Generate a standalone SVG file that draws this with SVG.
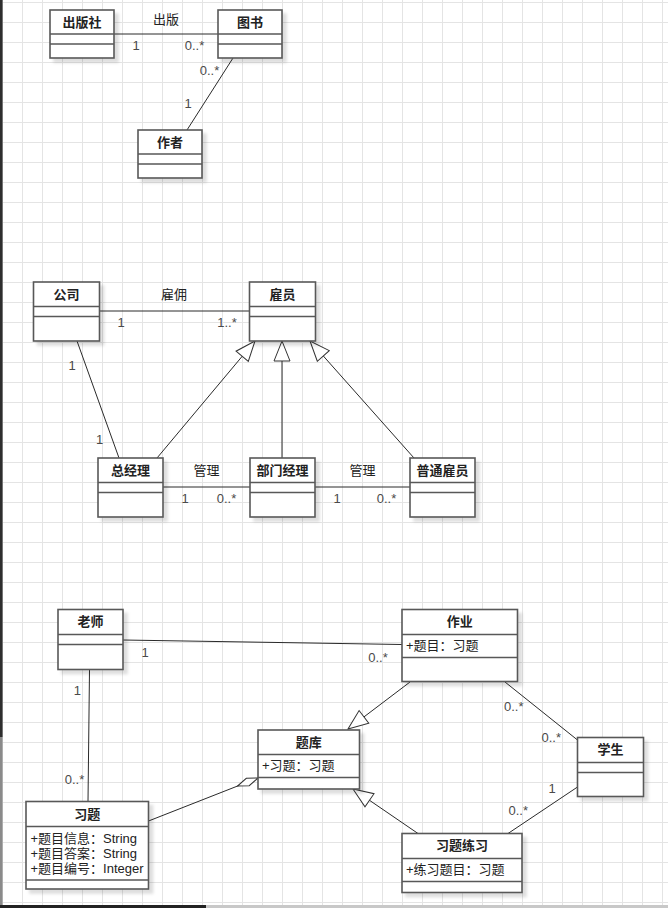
<svg xmlns="http://www.w3.org/2000/svg" width="668" height="908" viewBox="0 0 668 908">
  <defs>
    <pattern id="grid" x="2" y="2" width="20" height="20" patternUnits="userSpaceOnUse">
      <path d="M0 0.5 H20 M0.5 0 V20" fill="none" stroke="#e4e4e4" stroke-width="1"/>
    </pattern>
    <filter id="shadow" x="-10%" y="-10%" width="130%" height="130%">
      <feDropShadow dx="4" dy="4" stdDeviation="1.5" flood-color="#000" flood-opacity="0.13"/>
    </filter>
    <!-- hollow triangle: generalization -->
    <marker id="tri" viewBox="0 0 22 18" refX="21" refY="9" markerWidth="22" markerHeight="18" orient="auto" markerUnits="userSpaceOnUse">
      <path d="M21,9 L1,1 L1,17 Z" fill="#fff" stroke="#333" stroke-width="1"/>
    </marker>
    <!-- hollow diamond: aggregation -->
    <marker id="dia" viewBox="0 0 24 10" refX="23" refY="5" markerWidth="24" markerHeight="10" orient="auto" markerUnits="userSpaceOnUse">
      <path d="M23,5 L12,1 L1,5 L12,9 Z" fill="#fff" stroke="#333" stroke-width="1"/>
    </marker>
  </defs>
  <style>
    .box { fill: #fff; stroke: #585858; stroke-width: 1.6; filter: url(#shadow); }
    .div { stroke: #585858; stroke-width: 1.6; fill: none; }
    .hd { font-family: "Liberation Sans", "Noto Sans CJK SC", sans-serif; font-size: 13px; font-weight: bold; fill: #222; text-anchor: middle; }
    .at { font-family: "Liberation Sans", "Noto Sans CJK SC", sans-serif; font-size: 13px; fill: #222; }
    .lb { font-family: "Liberation Sans", "Noto Sans CJK SC", sans-serif; font-size: 13px; fill: #222; text-anchor: middle; }
    .m { font-family: "Liberation Sans", "Noto Sans CJK SC", sans-serif; font-size: 13px; fill: #4a4a4a; text-anchor: middle; }
    .ln { stroke: #2a2a2a; stroke-width: 1; fill: none; }
    .gen { marker-end: url(#tri); }
    .agg { marker-end: url(#dia); }
  </style>

  <!-- canvas -->
  <rect x="0" y="0" width="668" height="908" fill="#fff"/>
  <rect x="0" y="0" width="668" height="908" fill="url(#grid)"/>
  <rect x="0" y="0" width="2.6" height="737" fill="#2e2e2e"/>
  <rect x="0" y="737" width="2.6" height="168" fill="#8a8a8a"/>
  <rect x="0" y="905" width="668" height="3" fill="#c8c8c8"/>
  <rect x="0" y="905" width="206" height="3" fill="#222"/>

  <!-- connectors -->
  <g id="connectors">
    <line class="ln" x1="114" y1="34" x2="218" y2="34"/>
    <line class="ln" x1="233" y1="58" x2="187" y2="130"/>

    <line class="ln" x1="99.5" y1="311" x2="249.5" y2="311"/>
    <line class="ln" x1="77" y1="341" x2="119" y2="458"/>
    <line class="ln gen" x1="157" y1="458" x2="255" y2="341"/>
    <line class="ln gen" x1="282" y1="458" x2="282" y2="341"/>
    <line class="ln gen" x1="414" y1="458" x2="310" y2="341"/>
    <line class="ln" x1="163" y1="487" x2="250" y2="487"/>
    <line class="ln" x1="315" y1="487" x2="410" y2="487"/>

    <line class="ln" x1="123" y1="640" x2="402" y2="644.5"/>
    <line class="ln" x1="89.5" y1="669.5" x2="88" y2="801.5"/>
    <line class="ln agg" x1="148.5" y1="821" x2="258" y2="778"/>
    <line class="ln gen" x1="410" y1="682" x2="348" y2="729"/>
    <line class="ln" x1="505" y1="682" x2="577.5" y2="740"/>
    <line class="ln" x1="577.5" y1="787" x2="508" y2="833.5"/>
    <line class="ln gen" x1="418" y1="833.5" x2="353" y2="789"/>
  </g>

  <!-- association labels and multiplicities -->
  <g id="labels">
    <text class="lb" x="166" y="23.5">出版</text>
    <text class="m" x="136" y="50">1</text>
    <text class="m" x="194.5" y="50">0..*</text>
    <text class="m" x="209.5" y="75">0..*</text>
    <text class="m" x="188" y="108">1</text>

    <text class="lb" x="174" y="299">雇佣</text>
    <text class="m" x="121" y="327">1</text>
    <text class="m" x="227" y="327">1..*</text>
    <text class="m" x="72" y="370">1</text>
    <text class="m" x="99.5" y="444">1</text>
    <text class="lb" x="206.5" y="475">管理</text>
    <text class="m" x="185" y="503">1</text>
    <text class="m" x="226.5" y="503">0..*</text>
    <text class="lb" x="362.5" y="475">管理</text>
    <text class="m" x="337" y="503">1</text>
    <text class="m" x="386.5" y="503">0..*</text>

    <text class="m" x="145" y="656.5">1</text>
    <text class="m" x="378" y="661.5">0..*</text>
    <text class="m" x="77.3" y="695">1</text>
    <text class="m" x="74.5" y="784">0..*</text>
    <text class="m" x="513.7" y="711">0..*</text>
    <text class="m" x="551.3" y="741.5">0..*</text>
    <text class="m" x="552" y="793">1</text>
    <text class="m" x="518.3" y="815">0..*</text>
  </g>

  <!-- classes -->
  <g id="publisher">
    <rect class="box" x="50" y="10" width="64" height="48"/>
    <path class="div" d="M50 34 H114 M50 44 H114"/>
    <text class="hd" x="82" y="27">出版社</text>
  </g>
  <g id="book">
    <rect class="box" x="218" y="10" width="64" height="48"/>
    <path class="div" d="M218 34 H282 M218 44 H282"/>
    <text class="hd" x="250" y="27">图书</text>
  </g>
  <g id="author">
    <rect class="box" x="138" y="130" width="64" height="48"/>
    <path class="div" d="M138 154 H202 M138 164 H202"/>
    <text class="hd" x="170" y="147">作者</text>
  </g>

  <g id="company">
    <rect class="box" x="33.5" y="282" width="66" height="59"/>
    <path class="div" d="M33.5 306.5 H99.5 M33.5 316.5 H99.5"/>
    <text class="hd" x="66.5" y="299">公司</text>
  </g>
  <g id="employee">
    <rect class="box" x="249.5" y="282" width="66" height="59"/>
    <path class="div" d="M249.5 306.5 H315.5 M249.5 316.5 H315.5"/>
    <text class="hd" x="282.5" y="299">雇员</text>
  </g>
  <g id="general-manager">
    <rect class="box" x="98" y="458" width="65" height="59"/>
    <path class="div" d="M98 482.5 H163 M98 492.5 H163"/>
    <text class="hd" x="130.5" y="475">总经理</text>
  </g>
  <g id="dept-manager">
    <rect class="box" x="250" y="458" width="65" height="59"/>
    <path class="div" d="M250 482.5 H315 M250 492.5 H315"/>
    <text class="hd" x="282.5" y="475">部门经理</text>
  </g>
  <g id="staff">
    <rect class="box" x="410" y="458" width="65" height="59"/>
    <path class="div" d="M410 482.5 H475 M410 492.5 H475"/>
    <text class="hd" x="442.5" y="475">普通雇员</text>
  </g>

  <g id="teacher">
    <rect class="box" x="58" y="609.5" width="65" height="60"/>
    <path class="div" d="M58 634.5 H123 M58 644.5 H123"/>
    <text class="hd" x="90.5" y="626">老师</text>
  </g>
  <g id="homework">
    <rect class="box" x="402" y="609.5" width="115.5" height="72"/>
    <path class="div" d="M402 634.5 H517.5 M402 657.5 H517.5"/>
    <text class="hd" x="459.7" y="626">作业</text>
    <text class="at" x="406" y="650">+题目：习题</text>
  </g>
  <g id="question-bank">
    <rect class="box" x="258" y="730" width="101.5" height="59"/>
    <path class="div" d="M258 754.5 H359.5 M258 777.5 H359.5"/>
    <text class="hd" x="308.7" y="747">题库</text>
    <text class="at" x="262" y="770">+习题：习题</text>
  </g>
  <g id="student">
    <rect class="box" x="577.5" y="737.5" width="66" height="59"/>
    <path class="div" d="M577.5 762.5 H643.5 M577.5 772.5 H643.5"/>
    <text class="hd" x="610.5" y="754">学生</text>
  </g>
  <g id="exercise">
    <rect class="box" x="26" y="801.5" width="122.5" height="87.5"/>
    <path class="div" d="M26 826.5 H148.5 M26 880 H148.5"/>
    <text class="hd" x="87.2" y="818.5">习题</text>
    <text class="at" x="30.5" y="843">+题目信息：String</text>
    <text class="at" x="30.5" y="858">+题目答案：String</text>
    <text class="at" x="30.5" y="873">+题目编号：Integer</text>
  </g>
  <g id="practice">
    <rect class="box" x="402" y="833.5" width="120" height="59"/>
    <path class="div" d="M402 858.5 H522 M402 881.5 H522"/>
    <text class="hd" x="462" y="850">习题练习</text>
    <text class="at" x="406" y="874">+练习题目：习题</text>
  </g>
</svg>
